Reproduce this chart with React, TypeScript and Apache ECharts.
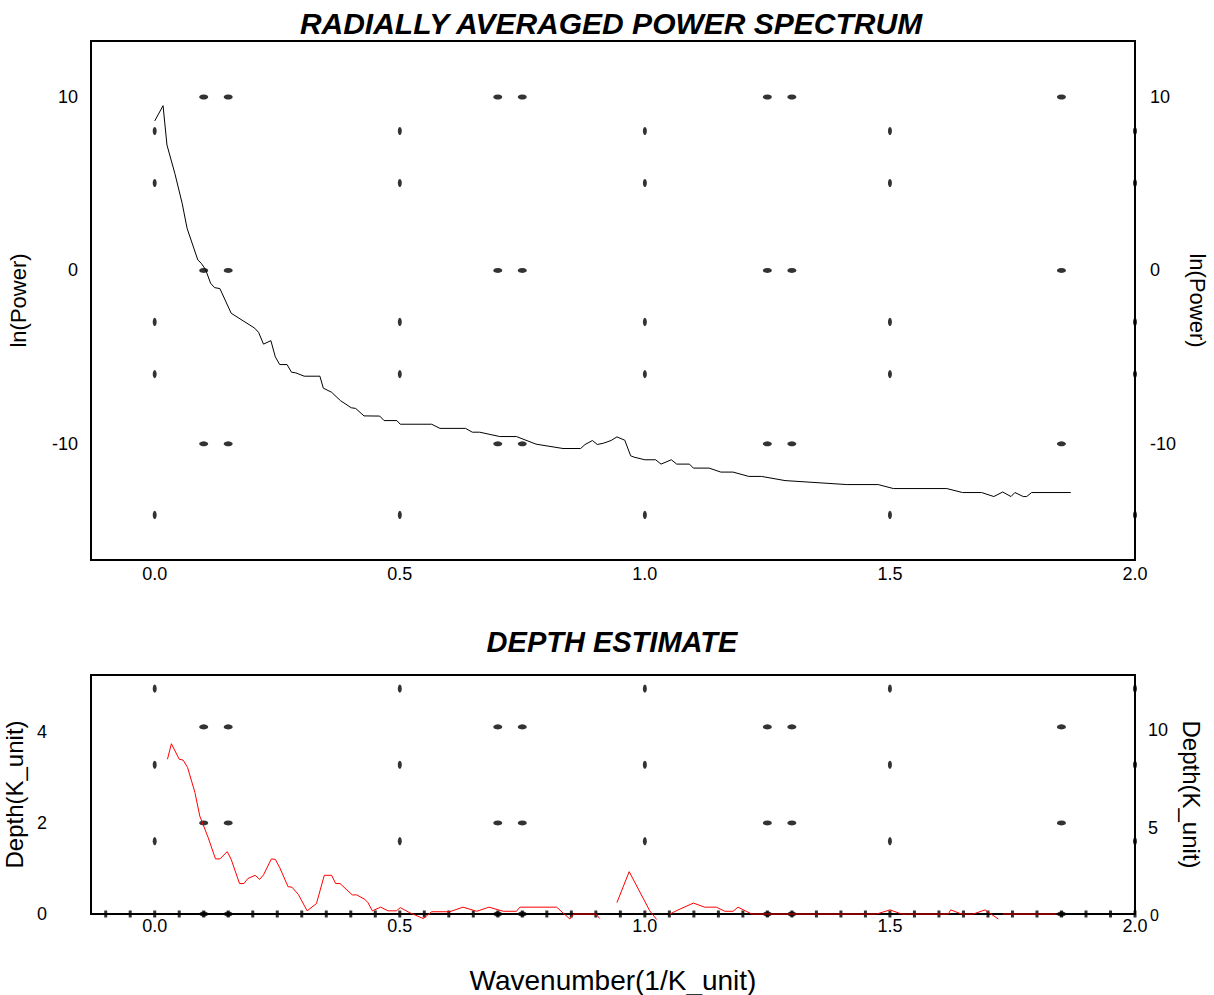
import React, { useEffect, useRef } from "react";
import * as echarts from "echarts";

// ---- data ----
const powerWn = [0.0, 0.017, 0.025, 0.041, 0.056, 0.066, 0.088, 0.095, 0.104, 0.114, 0.122, 0.133, 0.156, 0.204, 0.212, 0.222, 0.237, 0.246, 0.255, 0.27, 0.279, 0.288, 0.305, 0.337, 0.344, 0.361, 0.379, 0.401, 0.41, 0.427, 0.459, 0.468, 0.494, 0.501, 0.565, 0.582, 0.634, 0.648, 0.663, 0.704, 0.738, 0.778, 0.833, 0.869, 0.878, 0.893, 0.903, 0.916, 0.931, 0.943, 0.959, 0.971, 0.978, 1.0, 1.022, 1.033, 1.054, 1.065, 1.091, 1.099, 1.131, 1.155, 1.18, 1.212, 1.238, 1.286, 1.412, 1.476, 1.507, 1.616, 1.648, 1.687, 1.712, 1.73, 1.747, 1.755, 1.772, 1.779, 1.789, 1.869];
const lnPower = [8.62, 9.5, 7.23, 5.6, 3.87, 2.43, 0.6, 0.41, 0.03, -0.74, -0.99, -1.05, -2.47, -3.33, -3.58, -4.25, -4.05, -4.98, -5.43, -5.43, -5.87, -5.91, -6.1, -6.1, -6.79, -7.03, -7.51, -7.92, -7.96, -8.39, -8.4, -8.66, -8.66, -8.87, -8.87, -9.11, -9.11, -9.33, -9.33, -9.58, -9.58, -10.02, -10.27, -10.27, -10.04, -9.81, -10.04, -9.96, -9.81, -9.6, -9.79, -10.69, -10.77, -10.92, -10.92, -11.17, -10.92, -11.17, -11.17, -11.4, -11.4, -11.63, -11.63, -11.88, -11.88, -12.12, -12.35, -12.35, -12.58, -12.58, -12.81, -12.81, -13.04, -12.78, -13.04, -12.81, -13.04, -13.04, -12.81, -12.81];

// null = gap in the depth curve
const depthWn = [0.026, 0.034, 0.05, 0.058, 0.067, 0.082, 0.092, 0.109, 0.124, 0.133, 0.148, 0.156, 0.173, 0.182, 0.19, 0.205, 0.214, 0.222, 0.238, 0.246, 0.255, 0.272, 0.28, 0.293, 0.311, 0.33, 0.346, 0.361, 0.369, 0.378, 0.403, 0.412, 0.429, 0.435, 0.444, 0.461, 0.476, 0.493, 0.501, 0.52, 0.548, 0.565, 0.602, 0.629, 0.657, 0.682, 0.711, 0.738, 0.745, 0.82, 0.847, 0.855, 0.9, 0.908, 0.925, 0.943, 0.968, 1.01, 1.024, 1.038, 1.051, 1.068, 1.099, 1.122, 1.146, 1.163, 1.18, 1.19, 1.218, 1.473, 1.5, 1.524, 1.619, 1.624, 1.646, 1.67, 1.694, 1.721, 1.724, 1.73, 1.84];
const depthVal = [3.4, 3.74, 3.4, 3.38, 3.22, 2.67, 2.15, 1.68, 1.21, 1.21, 1.37, 1.2, 0.67, 0.67, 0.78, 0.85, 0.76, 0.86, 1.21, 1.2, 1.02, 0.6, 0.59, 0.43, 0.07, 0.23, 0.85, 0.85, 0.67, 0.67, 0.42, 0.42, 0.32, 0.25, 0.07, 0.15, 0.07, 0.07, 0.14, 0.03, -0.1, 0.05, 0.05, 0.15, 0.06, 0.15, 0.06, 0.06, 0.15, 0.15, -0.11, 0, 0, -0.1, null, 0.25, 0.93, 0.07, -0.12, null, 0, 0.09, 0.24, 0.15, 0.15, 0.06, 0.06, 0.15, 0, 0, 0.09, 0, 0, 0.09, 0, 0, 0.09, -0.11, null, 0, 0];

// marker dots
const dotColsX = [0, 0.5, 1.0, 1.5, 2.0];
const dotRowsX = [0.1, 0.15, 0.7, 0.75, 1.25, 1.3, 1.85];
const topColDotsY = [8.04, 5.04, -2.97, -5.98, -14.1];
const topRowDotsY = [10, 0, -10];
const botColDotsY = [4.95, 3.28, 1.6];
const botRowDotsY = [4.11, 2.0, 0];
const botTickX = [-0.1, -0.05, 0, 0.05, 0.1, 0.15, 0.2, 0.25, 0.3, 0.35, 0.4, 0.45, 0.5, 0.55, 0.6, 0.65, 0.7, 0.75, 0.8, 0.85, 0.9, 0.95, 1.0, 1.05, 1.1, 1.15, 1.2, 1.25, 1.3, 1.35, 1.4, 1.45, 1.5, 1.55, 1.6, 1.65, 1.7, 1.75, 1.8, 1.85, 1.9, 1.95, 2.0];

// tick labels
const xLabels = [0, 0.5, 1.0, 1.5, 2.0];
const topYLabels = [-10, 0, 10];
const botLeftLabels = [0, 2, 4];
const botRightLabels = [5, 10];

const FONT = "'Liberation Sans', Arial, Helvetica, sans-serif";

function grid2(xs: number[], ys: number[]) {
  const out: number[][] = [];
  xs.forEach((x) => ys.forEach((y) => out.push([x, y])));
  return out;
}

export default function App() {
  const ref = useRef<HTMLDivElement>(null);
  useEffect(() => {
    if (!ref.current) return;
    const chart = echarts.init(ref.current, null, { renderer: "svg" });
    const labelStyle = { color: "#000", fontSize: 18, fontFamily: FONT };
    const nameTop = { color: "#000", fontSize: 22, fontFamily: FONT };
    const nameBot = { color: "#000", fontSize: 24, fontFamily: FONT };
    const dotStyle = { color: "#000" };
    const titleStyle = { fontWeight: "bold", fontStyle: "italic", fontFamily: FONT, color: "#000" };
    const gridBase = {
      left: 91, right: 79, show: true, borderColor: "#000", borderWidth: 2,
      backgroundColor: "transparent", containLabel: false, outerBoundsMode: "none",
    };
    const option: any = {
      animation: false,
      backgroundColor: "#fff",
      title: [
        { text: "RADIALLY AVERAGED POWER SPECTRUM", left: 606, textAlign: "center", top: 3, textStyle: { ...titleStyle, fontSize: 30 } },
        { text: "DEPTH ESTIMATE", left: 607, textAlign: "center", top: 622, textStyle: { ...titleStyle, fontSize: 29 } },
      ],
      grid: [
        { ...gridBase, top: 41, height: 519 },
        { ...gridBase, top: 675, height: 239 },
      ],
      xAxis: [
        {
          type: "value", gridIndex: 0, min: -0.13, max: 2.0,
          axisLine: { show: false }, axisTick: { show: false }, splitLine: { show: false },
          axisLabel: { ...labelStyle, margin: 5, customValues: xLabels, formatter: (v: number) => v.toFixed(1) },
        },
        {
          type: "value", gridIndex: 1, min: -0.13, max: 2.0,
          name: "Wavenumber(1/K_unit)", nameLocation: "middle", nameGap: 52,
          nameTextStyle: { color: "#000", fontSize: 28, fontFamily: FONT },
          axisLine: { show: false }, axisTick: { show: false }, splitLine: { show: false },
          axisLabel: { ...labelStyle, margin: 3, customValues: xLabels, formatter: (v: number) => v.toFixed(1) },
        },
      ],
      yAxis: [
        {
          type: "value", gridIndex: 0, position: "left", min: -16.7, max: 13.23,
          name: "ln(Power)", nameLocation: "middle", nameGap: 62, nameRotate: 90, nameTextStyle: nameTop,
          axisLine: { show: false }, axisTick: { show: false }, splitLine: { show: false },
          axisLabel: { ...labelStyle, margin: 13, customValues: topYLabels },
        },
        {
          type: "value", gridIndex: 0, position: "right", min: -16.7, max: 13.23,
          name: "ln(Power)", nameLocation: "middle", nameGap: 44, nameRotate: -90, nameTextStyle: nameTop,
          axisLine: { show: false }, axisTick: { show: false }, splitLine: { show: false },
          axisLabel: { ...labelStyle, margin: 15, customValues: topYLabels },
        },
        {
          type: "value", gridIndex: 1, position: "left", min: 0, max: 5.25,
          name: "Depth(K_unit)", nameLocation: "middle", nameGap: 54, nameRotate: 90, nameTextStyle: nameBot,
          axisLine: { show: false }, axisTick: { show: false }, splitLine: { show: false },
          axisLabel: { ...labelStyle, margin: 44, customValues: botLeftLabels },
        },
        {
          type: "value", gridIndex: 1, position: "right", min: 0.61, max: 12.8,
          name: "Depth(K_unit)", nameLocation: "middle", nameGap: 44, nameRotate: -90, nameTextStyle: nameBot,
          axisLine: { show: false }, axisTick: { show: false }, splitLine: { show: false },
          axisLabel: { ...labelStyle, margin: 13, customValues: botRightLabels },
        },
      ],
      graphic: [
        { type: "text", left: 1150, top: 907, style: { text: "0", fontSize: 16, fontFamily: FONT, fill: "#000" } },
      ],
      series: [
        {
          type: "line", xAxisIndex: 0, yAxisIndex: 0, showSymbol: false, clip: false,
          lineStyle: { color: "#000", width: 1 },
          data: powerWn.map((x, i) => [x, lnPower[i]]),
          z: 3,
        },
        {
          type: "scatter", xAxisIndex: 0, yAxisIndex: 0, symbol: "circle", symbolSize: [4, 8],
          itemStyle: dotStyle, data: grid2(dotColsX, topColDotsY), z: 4,
        },
        {
          type: "scatter", xAxisIndex: 0, yAxisIndex: 0, symbol: "circle", symbolSize: [9, 5],
          itemStyle: dotStyle, data: grid2(dotRowsX, topRowDotsY), z: 4,
        },
        {
          type: "scatter", xAxisIndex: 1, yAxisIndex: 2, symbol: "circle", symbolSize: [4, 8],
          itemStyle: dotStyle, data: grid2(dotColsX, botColDotsY), z: 4,
        },
        {
          type: "scatter", xAxisIndex: 1, yAxisIndex: 2, symbol: "circle", symbolSize: [9, 5],
          itemStyle: dotStyle, data: grid2(dotRowsX, botRowDotsY), z: 4,
        },
        {
          type: "scatter", xAxisIndex: 1, yAxisIndex: 2, symbol: "rect", symbolSize: [3, 7],
          itemStyle: dotStyle, data: botTickX.map((x) => [x, 0]), z: 4,
        },
        {
          type: "line", xAxisIndex: 1, yAxisIndex: 2, showSymbol: false, clip: false, connectNulls: false,
          lineStyle: { color: "#ff0000", width: 1 },
          data: depthWn.map((x, i) => [x, depthVal[i] === null ? "-" : depthVal[i]]),
          z: 5,
        },
      ],
    };
    chart.setOption(option);
    return () => chart.dispose();
  }, []);
  return (
    <div
      ref={ref}
      style={{ position: "fixed", left: 0, top: 0, width: 1214, height: 995, background: "#fff" }}
    />
  );
}
